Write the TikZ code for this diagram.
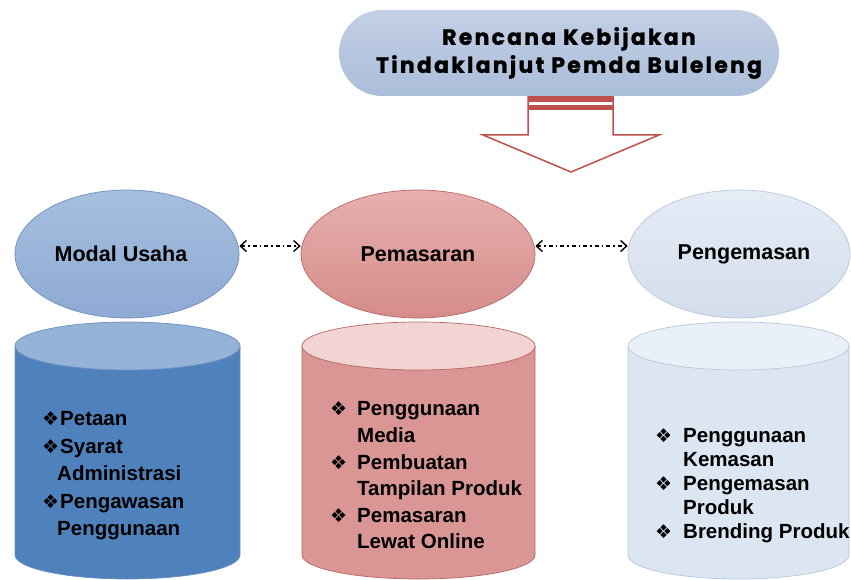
\documentclass[tikz,border=0pt]{standalone}
\usepackage{fontspec}
\setmainfont{Liberation Sans}
\newfontfamily\titlefont{Poppins}[LetterSpace=10, BoldFeatures={FakeBold=1.2}]
\newfontfamily\symfont{DejaVu Sans}
\usetikzlibrary{arrows.meta,shapes.geometric}
\definecolor{tTop}{HTML}{C3D0E5}
\definecolor{tBot}{HTML}{AABDD9}
\definecolor{arrRed}{HTML}{C0504D}
\definecolor{bE1}{HTML}{A6BFDF}
\definecolor{bE2}{HTML}{8EAAD3}
\definecolor{bLine}{HTML}{6F8FC0}
\definecolor{bBody}{HTML}{4F81BD}
\definecolor{bTop}{HTML}{95B3D7}
\definecolor{rE1}{HTML}{E6B0AE}
\definecolor{rE2}{HTML}{D48C8A}
\definecolor{rLine}{HTML}{B86664}
\definecolor{rBody}{HTML}{D99694}
\definecolor{rTop}{HTML}{F2D4D3}
\definecolor{gE1}{HTML}{E6ECF6}
\definecolor{gE2}{HTML}{D3DDEC}
\definecolor{gLine}{HTML}{B8C7DC}
\definecolor{gBody}{HTML}{DCE6F2}
\definecolor{gTop}{HTML}{EAF0F8}
\tikzset{
  lbl/.style={font=\fontsize{21.5}{24}\selectfont\bfseries, text=black},
  oval/.style={ellipse, minimum height=128pt, line width=0.7pt, inner sep=0pt},
  listtext/.style={font=\fontsize{20.5}{#1}\selectfont\bfseries, align=left, anchor=north west, inner sep=0pt, text=black},
  link/.style={line width=1.2pt, dash pattern=on 4pt off 3pt on 1.5pt off 3pt, {Straight Barb[length=6pt,width=11pt,line width=1.4pt]}-{Straight Barb[length=6pt,width=11pt,line width=1.4pt]}},
}
\newcommand\bul[1]{\makebox[#1][l]{\symfont\fontsize{19}{19}\selectfont\raisebox{0pt}{\char"2756}}}
\begin{document}
\begin{tikzpicture}[x=1pt,y=1pt]
\useasboundingbox (0,0) rectangle (851,579);
\fill[white] (0,0) rectangle (851,579);

% title
\node[rectangle, rounded corners=43pt, minimum width=440pt, minimum height=86pt,
      top color=tTop, bottom color=tBot] (title) at (559,526) {};
\node[align=center, inner sep=0pt,
      font=\titlefont\bfseries\fontsize{22}{28}\selectfont] (titletext) at (569,526)
      {Rencana Kebijakan\\Tindaklanjut Pemda Buleleng};

% block arrow
\draw[arrRed, line width=1.5pt, fill=white, line join=miter]
  (528,482) -- (528,444) -- (483,444) -- (571,407) -- (659,444) -- (613,444) -- (613,482) -- cycle;
\fill[arrRed] (528,482) rectangle (613,477);
\fill[arrRed] (528,474) rectangle (613,469);

% cylinders
\fill[bBody] (15,233) -- (15,24) arc[start angle=180,end angle=360,x radius=112.5,y radius=24] -- (240,233) -- cycle;
\draw[bLine, line width=0.7pt] (15,233) -- (15,24) arc[start angle=180,end angle=360,x radius=112.5,y radius=24] -- (240,233);
\draw[bLine, line width=0.7pt, fill=bTop] (127.5,233) ellipse[x radius=112.5, y radius=24];

\fill[rBody] (302,233) -- (302,24) arc[start angle=180,end angle=360,x radius=116.5,y radius=24] -- (535,233) -- cycle;
\draw[rLine, line width=0.7pt] (302,233) -- (302,24) arc[start angle=180,end angle=360,x radius=116.5,y radius=24] -- (535,233);
\draw[rLine, line width=0.7pt, fill=rTop] (418.5,233) ellipse[x radius=116.5, y radius=24];

\fill[gBody] (628,233) -- (628,24) arc[start angle=180,end angle=360,x radius=110.5,y radius=24] -- (849,233) -- cycle;
\draw[gLine, line width=0.7pt] (628,233) -- (628,24) arc[start angle=180,end angle=360,x radius=110.5,y radius=24] -- (849,233);
\draw[gLine, line width=0.7pt, fill=gTop] (738.5,233) ellipse[x radius=110.5, y radius=24];

% ovals
\node[oval, minimum width=224pt, draw=bLine, top color=bE1, bottom color=bE2, lbl] (mu) at (127,325) {\hspace*{-12pt}Modal Usaha};
\node[oval, minimum width=234pt, draw=rLine, top color=rE1, bottom color=rE2, lbl] (pm) at (418,325) {Pemasaran};
\node[oval, minimum width=222pt, draw=gLine, top color=gE1, bottom color=gE2, lbl] (pg) at (739,325) {\hspace*{10pt}Pengemasan};

% links
\draw[link] ([yshift=8pt]mu.east) -- ([yshift=8pt]pm.west);
\draw[link] ([yshift=8pt]pm.east) -- ([yshift=8pt]pg.west);

% lists
\node[listtext=27.5pt] (lmu) at (42,167.5)
  {\bul{18pt}Petaan\\ \bul{18pt}Syarat\\ \hspace*{15pt}Administrasi\\ \bul{18pt}Pengawasan\\ \hspace*{15pt}Penggunaan};
\node[listtext=26.6pt] (lpm) at (330,177.5)
  {\bul{27pt}Penggunaan\\ \hspace*{27pt}Media\\ \bul{27pt}Pembuatan\\ \hspace*{27pt}Tampilan Produk\\ \bul{27pt}Pemasaran\\ \hspace*{27pt}Lewat Online};
\node[listtext=24pt] (lpg) at (655,150.5)
  {\bul{28pt}Penggunaan\\ \hspace*{28pt}Kemasan\\ \bul{28pt}Pengemasan\\ \hspace*{28pt}Produk\\ \bul{28pt}Brending Produk};
\end{tikzpicture}
\end{document}
